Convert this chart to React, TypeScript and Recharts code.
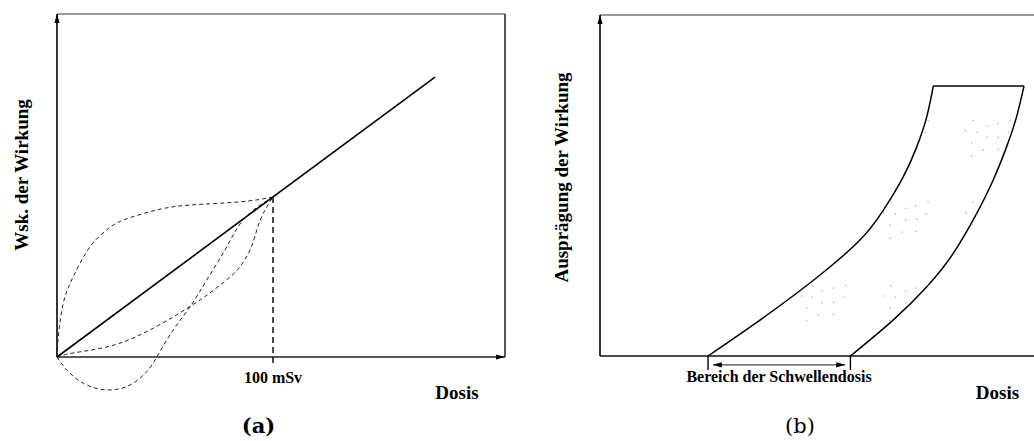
import React from 'react';
import {
  ComposedChart,
  Line,
  XAxis,
  YAxis,
  ReferenceLine,
  ReferenceDot,
  Scatter,
} from 'recharts';

const serif = "'Liberation Serif', 'Times New Roman', serif";
const captionFont = "'DejaVu Serif', serif";

// ---------- Panel (a): stochastic effects ----------
const doseDomainA: [number, number] = [0, 207.4];
const riskDomainA: [number, number] = [-0.3, 2.144];
const refDose = 100; // 100 mSv
const refRisk = 1;

const linearModel = [
  { x: 0, y: 0 },
  { x: 175, y: 1.75 },
];
const supralinearModel = [
  { x: 0, y: 0 },
  { x: 0.6, y: 0.127 },
  { x: 2.9, y: 0.336 },
  { x: 7.5, y: 0.502 },
  { x: 15.3, y: 0.689 },
  { x: 23, y: 0.794 },
  { x: 30.7, y: 0.856 },
  { x: 46.2, y: 0.919 },
  { x: 61.6, y: 0.95 },
  { x: 84.7, y: 0.97 },
  { x: 100, y: 1 },
];
const sublinearModel = [
  { x: 0, y: 0 },
  { x: 7.4, y: 0.025 },
  { x: 23.1, y: 0.063 },
  { x: 38.4, y: 0.138 },
  { x: 53.7, y: 0.25 },
  { x: 64.8, y: 0.344 },
  { x: 70.8, y: 0.4 },
  { x: 80.1, y: 0.5 },
  { x: 84.7, y: 0.564 },
  { x: 89.4, y: 0.669 },
  { x: 92.5, y: 0.794 },
  { x: 95.5, y: 0.898 },
  { x: 100, y: 1 },
];
const hormesisModel = [
  { x: 0, y: 0 },
  { x: 4.5, y: -0.081 },
  { x: 12.2, y: -0.164 },
  { x: 23, y: -0.206 },
  { x: 33.8, y: -0.175 },
  { x: 41.5, y: -0.092 },
  { x: 46.2, y: 0 },
  { x: 53.8, y: 0.169 },
  { x: 61.6, y: 0.314 },
  { x: 69.3, y: 0.481 },
  { x: 78.6, y: 0.689 },
  { x: 87, y: 0.87 },
  { x: 100, y: 1 },
];

// ---------- Panel (b): deterministic effects ----------
const doseDomainB: [number, number] = [0, 100];
const severityDomainB: [number, number] = [0, 100];

const lowerBound = [
  { x: 24.9, y: 0 },
  { x: 35.3, y: 9.1 },
  { x: 45.3, y: 18.4 },
  { x: 52.2, y: 25.3 },
  { x: 59.9, y: 34 },
  { x: 65.3, y: 42.8 },
  { x: 69.9, y: 52.6 },
  { x: 73, y: 61.4 },
  { x: 75.3, y: 70.2 },
  { x: 76.8, y: 79.2 },
];
const upperBound = [
  { x: 57.7, y: 0 },
  { x: 67.6, y: 10.6 },
  { x: 75.3, y: 20.3 },
  { x: 81.4, y: 30.1 },
  { x: 86.8, y: 41.8 },
  { x: 90.6, y: 51.6 },
  { x: 93.7, y: 61.4 },
  { x: 96, y: 70.2 },
  { x: 97.7, y: 79.2 },
];
const bandCap = [
  { x: 76.8, y: 79.2 },
  { x: 97.7, y: 79.2 },
];
const thresholdRange: [number, number] = [24.9, 57.7];
const thresholdArrow: [number, number] = [26.0, 56.5];

// faint stipple inside the band
const stipple = [
  { x: 86.0, y: 69.0 }, { x: 89.2, y: 67.4 }, { x: 91.6, y: 68.2 }, { x: 94.5, y: 69.0 },
  { x: 84.2, y: 66.1 }, { x: 86.9, y: 65.6 }, { x: 89.2, y: 64.1 }, { x: 91.8, y: 64.1 },
  { x: 94.1, y: 65.6 }, { x: 85.6, y: 62.6 }, { x: 88.3, y: 60.4 }, { x: 91.8, y: 60.6 },
  { x: 85.6, y: 58.7 }, { x: 75.6, y: 69.0 }, { x: 75.1, y: 65.6 },
  { x: 67.1, y: 45.1 }, { x: 70.4, y: 43.3 }, { x: 72.7, y: 44.1 }, { x: 75.6, y: 45.1 },
  { x: 65.3, y: 42.0 }, { x: 68.1, y: 41.6 }, { x: 70.4, y: 39.9 }, { x: 73.0, y: 40.1 },
  { x: 75.1, y: 41.6 }, { x: 66.8, y: 38.4 }, { x: 69.5, y: 36.3 }, { x: 72.8, y: 36.5 },
  { x: 66.8, y: 34.5 }, { x: 86.0, y: 45.1 }, { x: 84.3, y: 42.0 }, { x: 86.9, y: 41.6 },
  { x: 85.8, y: 38.4 },
  { x: 48.9, y: 20.6 }, { x: 51.2, y: 19.1 }, { x: 53.8, y: 19.9 }, { x: 56.6, y: 20.6 },
  { x: 46.5, y: 17.6 }, { x: 48.9, y: 17.2 }, { x: 51.2, y: 15.6 }, { x: 53.8, y: 15.7 },
  { x: 56.1, y: 17.2 }, { x: 47.6, y: 14.0 }, { x: 50.3, y: 12.0 }, { x: 53.8, y: 12.2 },
  { x: 47.6, y: 10.4 },
  { x: 67.1, y: 20.6 }, { x: 70.4, y: 19.1 }, { x: 72.7, y: 19.9 }, { x: 75.6, y: 20.6 },
  { x: 65.3, y: 17.6 }, { x: 68.1, y: 17.2 }, { x: 70.4, y: 15.6 }, { x: 66.8, y: 14.0 },
  { x: 66.8, y: 10.4 },
];

// ---------- drawing helpers ----------
const arrowUp = (p: any) => (
  <polygon points={`${p.cx},${p.cy} ${p.cx - 2.6},${p.cy + 9} ${p.cx + 2.6},${p.cy + 9}`} fill="#000" />
);
const arrowRight = (p: any) => (
  <polygon points={`${p.cx},${p.cy} ${p.cx - 9},${p.cy - 2.6} ${p.cx - 9},${p.cy + 2.6}`} fill="#000" />
);
const arrowLeft = (p: any) => (
  <polygon points={`${p.cx},${p.cy} ${p.cx + 9},${p.cy - 2.6} ${p.cx + 9},${p.cy + 2.6}`} fill="#000" />
);
const speck = (p: any) => (
  <rect x={p.cx - 0.6} y={p.cy - 0.6} width={1.2} height={1.2} fill="#a0a0a0" />
);

const boldLabel = { fontFamily: serif, fontWeight: 700, fill: '#000' } as const;

function PanelA() {
  const [x0, x1] = doseDomainA;
  const yTop = riskDomainA[1];
  return (
    <ComposedChart width={520} height={441} margin={{ top: 14, right: 15, bottom: 36, left: 57 }}>
      <XAxis type="number" dataKey="x" domain={doseDomainA} hide />
      <YAxis type="number" domain={riskDomainA} hide />
      {/* frame */}
      <ReferenceLine segment={[{ x: x0, y: yTop }, { x: x1, y: yTop }]} stroke="#333" strokeWidth={1.2} ifOverflow="visible" />
      <ReferenceLine segment={[{ x: x1, y: yTop }, { x: x1, y: 0 }]} stroke="#111" strokeWidth={1.4} ifOverflow="visible" />
      <ReferenceLine segment={[{ x: x0, y: 0 }, { x: x0, y: yTop }]} stroke="#000" strokeWidth={1.6} ifOverflow="visible" />
      <ReferenceLine segment={[{ x: x0, y: 0 }, { x: x1, y: 0 }]} stroke="#222" strokeWidth={1.6} ifOverflow="visible" />
      <ReferenceDot x={x0} y={yTop} shape={arrowUp} ifOverflow="visible" />
      <ReferenceDot x={x1} y={0} shape={arrowRight} ifOverflow="visible" />
      {/* 100 mSv marker */}
      <ReferenceLine
        segment={[{ x: refDose, y: refRisk }, { x: refDose, y: -0.05 }]}
        stroke="#000"
        strokeWidth={1.4}
        strokeDasharray="6 4"
        ifOverflow="visible"
        label={{ value: '100 mSv', position: 'bottom', offset: 7, fontSize: 16, ...boldLabel }}
      />
      <Line data={supralinearModel} dataKey="y" type="natural" stroke="#222" strokeWidth={1} strokeDasharray="4 3" dot={false} activeDot={false} isAnimationActive={false} />
      <Line data={sublinearModel} dataKey="y" type="natural" stroke="#222" strokeWidth={1} strokeDasharray="4 3" dot={false} activeDot={false} isAnimationActive={false} />
      <Line data={hormesisModel} dataKey="y" type="natural" stroke="#222" strokeWidth={1} strokeDasharray="4 3" dot={false} activeDot={false} isAnimationActive={false} />
      <Line data={linearModel} dataKey="y" type="linear" stroke="#000" strokeWidth={1.6} dot={false} activeDot={false} isAnimationActive={false} />
      <text x={28} y={175} transform="rotate(-90 28 175)" textAnchor="middle" fontSize={19} {...boldLabel}>
        Wsk. der Wirkung
      </text>
      <text x={457} y={399} textAnchor="middle" fontSize={19} {...boldLabel}>
        Dosis
      </text>
      <text x={258.5} y={433} textAnchor="middle" fontSize={21} fontFamily={captionFont} fontWeight={700} fill="#000">
        (a)
      </text>
    </ComposedChart>
  );
}

function PanelB() {
  const [x0, x1] = doseDomainB;
  const yTop = severityDomainB[1];
  const [tLo, tHi] = thresholdRange;
  const [aLo, aHi] = thresholdArrow;
  return (
    <ComposedChart width={514} height={441} margin={{ top: 15, right: 0, bottom: 85, left: 80 }}>
      <XAxis type="number" dataKey="x" domain={doseDomainB} hide />
      <YAxis type="number" domain={severityDomainB} hide />
      {/* frame */}
      <ReferenceLine segment={[{ x: x0, y: yTop }, { x: x1, y: yTop }]} stroke="#333" strokeWidth={1.2} ifOverflow="visible" />
      <ReferenceLine segment={[{ x: x0, y: 0 }, { x: x0, y: yTop }]} stroke="#000" strokeWidth={1.6} ifOverflow="visible" />
      <ReferenceLine segment={[{ x: x0, y: 0 }, { x: x1, y: 0 }]} stroke="#111" strokeWidth={1.6} ifOverflow="visible" />
      <ReferenceDot x={x0} y={yTop} shape={arrowUp} ifOverflow="visible" />
      {/* threshold dose range */}
      <ReferenceLine segment={[{ x: tLo, y: 0 }, { x: tLo, y: -4.1 }]} stroke="#000" strokeWidth={1.4} ifOverflow="visible" />
      <ReferenceLine segment={[{ x: tHi, y: 0 }, { x: tHi, y: -4.1 }]} stroke="#000" strokeWidth={1.4} ifOverflow="visible" />
      <ReferenceLine
        segment={[{ x: aLo, y: -2.6 }, { x: aHi, y: -2.6 }]}
        stroke="#444"
        strokeWidth={1.2}
        ifOverflow="visible"
        label={{ value: 'Bereich der Schwellendosis', position: 'bottom', offset: 6, fontSize: 16, ...boldLabel }}
      />
      <ReferenceDot x={aLo} y={-2.6} shape={arrowLeft} ifOverflow="visible" />
      <ReferenceDot x={aHi} y={-2.6} shape={arrowRight} ifOverflow="visible" />
      {/* dose-severity band */}
      <Scatter data={stipple} dataKey="y" shape={speck} isAnimationActive={false} />
      <Line data={lowerBound} dataKey="y" type="natural" stroke="#000" strokeWidth={1.5} dot={false} activeDot={false} isAnimationActive={false} />
      <Line data={upperBound} dataKey="y" type="natural" stroke="#000" strokeWidth={1.5} dot={false} activeDot={false} isAnimationActive={false} />
      <Line data={bandCap} dataKey="y" type="linear" stroke="#000" strokeWidth={1.5} dot={false} activeDot={false} isAnimationActive={false} />
      <text x={48} y={177.5} transform="rotate(-90 48 177.5)" textAnchor="middle" fontSize={19} {...boldLabel}>
        Ausprägung der Wirkung
      </text>
      <text x={477.5} y={399} textAnchor="middle" fontSize={19} {...boldLabel}>
        Dosis
      </text>
      <text x={280} y={433} textAnchor="middle" fontSize={21} fontFamily={captionFont} fill="#000">
        (b)
      </text>
    </ComposedChart>
  );
}

export default function App() {
  return (
    <div
      style={{
        position: 'absolute',
        left: 0,
        top: 0,
        width: 1034,
        height: 441,
        display: 'flex',
        background: '#fff',
        overflow: 'hidden',
      }}
    >
      <PanelA />
      <PanelB />
    </div>
  );
}
